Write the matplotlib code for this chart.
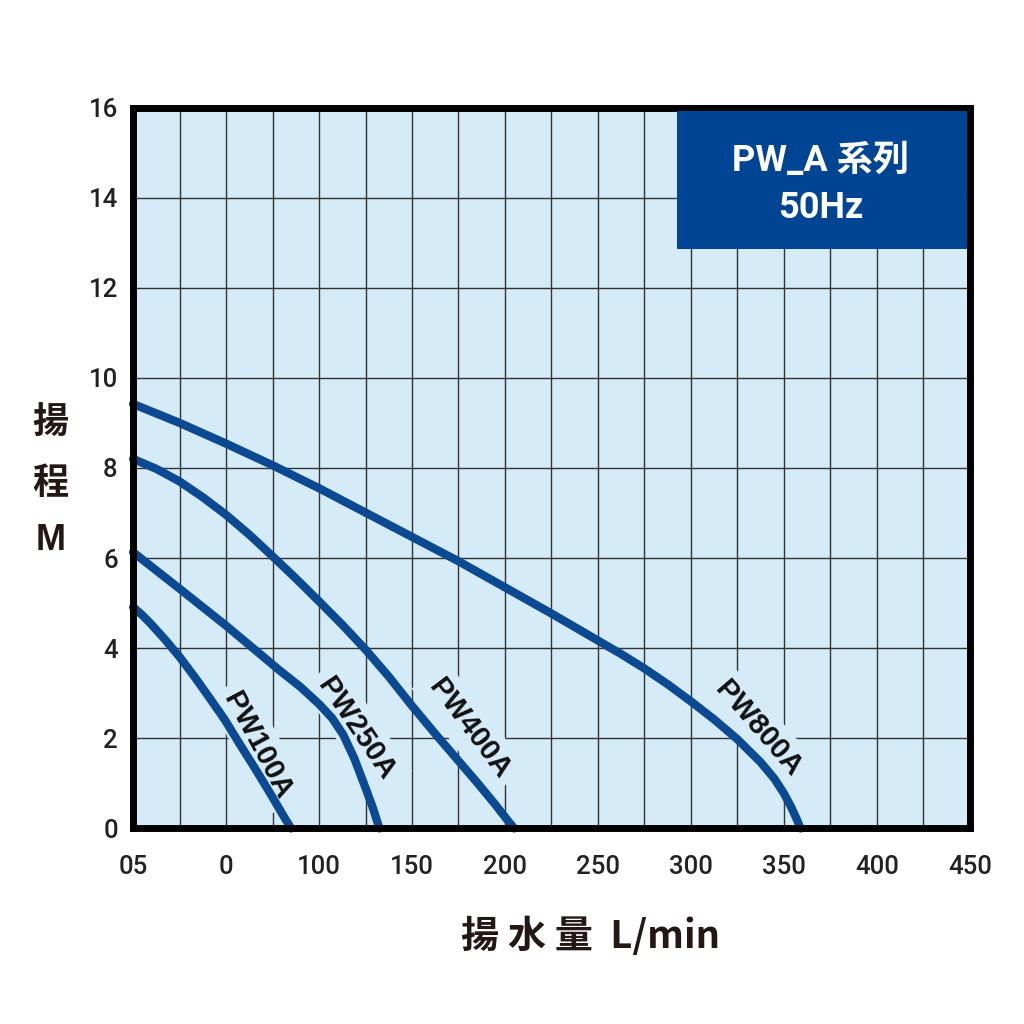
import matplotlib.pyplot as plt
from matplotlib.patches import Rectangle

# pump curves (flow L/min, head m)
pw100_q = [0, 4.5, 9.1, 17.2, 25.3, 33.3, 41.4, 49.5, 57.5, 65.6, 73.7, 81.7, 85]
pw100_h = [4.91, 4.75, 4.56, 4.19, 3.79, 3.35, 2.88, 2.40, 1.86, 1.33, 0.78, 0.22, 0]

pw250_q = [0, 25, 50, 59, 79, 90, 100, 107, 113, 119, 125, 129, 132.5]
pw250_h = [6.13, 5.32, 4.5, 4.19, 3.5, 3.14, 2.76, 2.45, 2.08, 1.55, 0.9, 0.45, 0]

pw400_q = [0, 12.5, 25, 37.5, 50, 62.5, 75, 87.5, 100, 112.5, 125, 137.5, 150,
           162.5, 175, 185, 195, 202, 205]
pw400_h = [8.2, 7.98, 7.7, 7.35, 6.96, 6.52, 6.04, 5.55, 5.04, 4.52, 3.97, 3.37, 2.72,
           2.1, 1.5, 1.02, 0.52, 0.15, 0]

pw800_q = [0, 25, 50, 75, 100, 125, 150, 175, 200, 225, 250, 262.5, 275, 287.5,
           300, 312.5, 325, 337.5, 345, 350, 354, 357, 359]
pw800_h = [9.42, 9.0, 8.54, 8.06, 7.55, 7.01, 6.47, 5.93, 5.35, 4.77, 4.17, 3.87, 3.55, 3.2,
           2.82, 2.42, 1.98, 1.47, 1.1, 0.78, 0.47, 0.2, 0]

curves = [
    ('PW100A', pw100_q, pw100_h, (67, 1.84), -62),
    ('PW250A', pw250_q, pw250_h, (120, 2.22), -56),
    ('PW400A', pw400_q, pw400_h, (181, 2.22), -53),
    ('PW800A', pw800_q, pw800_h, (336, 2.22), -49),
]

x_ticks = [0, 50, 100, 150, 200, 250, 300, 350, 400, 450]
x_labels = ['05', '0', '100', '150', '200', '250', '300', '350', '400', '450']
y_ticks = [0, 2, 4, 6, 8, 10, 12, 14, 16]

bg = '#d5ebf8'
navy = '#0b4a93'

fig = plt.figure(figsize=(10.24, 10.24), dpi=100)
ax = fig.add_axes([0.130, 0.191, 0.817, 0.704])
ax.set_facecolor(bg)
ax.set_xlim(0, 450)
ax.set_ylim(0, 16)

# grid: every 25 L/min and every 2 m
for gx in range(25, 450, 25):
    ax.axvline(gx, color='#333333', lw=1.0, zorder=1)
for gy in y_ticks[1:-1]:
    ax.axhline(gy, color='#333333', lw=1.0, zorder=1)

for name, q, h, pos, rot in curves:
    ax.plot(q, h, color=navy, lw=6, solid_capstyle='round',
            solid_joinstyle='round', zorder=3, clip_on=False)
    ax.text(pos[0], pos[1], name, rotation=rot, rotation_mode='anchor',
            ha='center', va='center', fontsize=21, fontweight='bold',
            family='Liberation Sans', color='#111111', zorder=2,
            bbox=dict(facecolor=bg, edgecolor='none', pad=6))

for s in ax.spines.values():
    s.set_linewidth(5)
    s.set_color('black')
    s.set_zorder(5)

ax.set_xticks(x_ticks)
ax.set_xticklabels(x_labels)
ax.set_yticks(y_ticks)
ax.tick_params(axis='x', length=0, labelsize=18.5, pad=19)
ax.tick_params(axis='y', length=0, labelsize=18.5, pad=11)
for lab in ax.get_xticklabels() + ax.get_yticklabels():
    lab.set_family('Roboto')
    lab.set_fontweight('medium')
    lab.set_color('#222222')

# series box
ax.add_patch(Rectangle((292.5, 12.87), 156, 3.06, facecolor='#004494',
                       edgecolor='none', zorder=6, clip_on=False))
ax.text(370, 14.82, 'PW_A 系列', ha='center', va='center', fontsize=26,
        fontweight='bold', color='white', zorder=7,
        family=['Roboto', 'Noto Sans CJK JP'])
ax.text(370, 13.78, '50Hz', ha='center', va='center', fontsize=26,
        fontweight='bold', color='white', zorder=7, family='Roboto')

cjk = ['Noto Sans CJK JP', 'DejaVu Sans']
fig.text(0.049, 0.587, '揚', ha='center', va='center', fontsize=26,
         fontweight='bold', family=cjk, color='#231815')
fig.text(0.049, 0.528, '程', ha='center', va='center', fontsize=26,
         fontweight='bold', family=cjk, color='#231815')
fig.text(0.049, 0.472, 'M', ha='center', va='center', fontsize=26,
         fontweight='bold', family=['Liberation Sans'], color='#231815')

fig.text(0.577, 0.086, '揚 水 量  L/min', ha='center', va='center',
         fontsize=27.5, fontweight='bold', family=['Noto Sans CJK JP', 'DejaVu Sans'],
         color='#231815')

fig.savefig('out.png', dpi=100, facecolor='white')
